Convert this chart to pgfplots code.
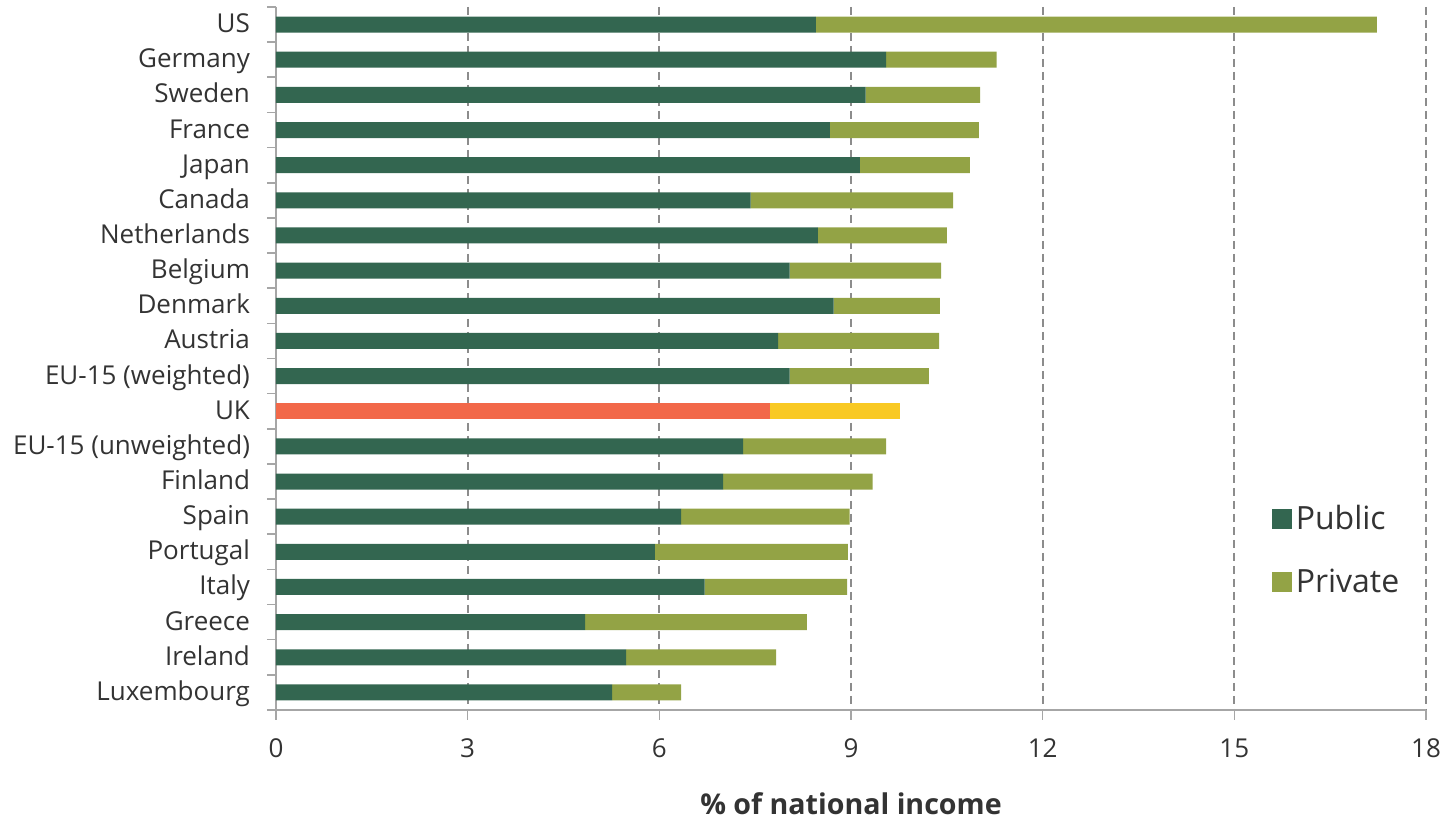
\documentclass[border=0pt]{standalone}
\usepackage{pgfplots}
\pgfplotsset{compat=1.18}
\usepackage{pgfplotstable}
\usepackage{fontspec}
\setmainfont{Open Sans}
\definecolor{pubc}{HTML}{336650}
\definecolor{privc}{HTML}{93A345}
\definecolor{ukpubc}{HTML}{F26849}
\definecolor{ukprivc}{HTML}{F9C923}
\definecolor{textc}{HTML}{333333}
\definecolor{axc}{HTML}{A6A6A6}
\definecolor{gridc}{HTML}{8C8C8C}

\pgfplotstableread{
y pub priv ukpub ukpriv
0 8.45 8.78 0 0
1 9.55 1.73 0 0
2 9.23 1.79 0 0
3 8.67 2.33 0 0
4 9.14 1.72 0 0
5 7.43 3.17 0 0
6 8.48 2.02 0 0
7 8.04 2.37 0 0
8 8.73 1.66 0 0
9 7.86 2.52 0 0
10 8.04 2.18 0 0
11 0 0 7.73 2.04
12 7.31 2.24 0 0
13 7.00 2.34 0 0
14 6.34 2.64 0 0
15 5.93 3.02 0 0
16 6.71 2.23 0 0
17 4.84 3.47 0 0
18 5.48 2.35 0 0
19 5.26 1.08 0 0
}\data

\begin{document}
\begin{tikzpicture}
\path[use as bounding box] (-138pt,-56pt) rectangle (588.5pt,355pt);
\begin{axis}[
  at={(0,0)}, anchor=south west,
  scale only axis, width=575pt, height=351.5pt,
  xbar stacked, bar width=8pt,
  xmin=0, xmax=18, xtick={0,3,...,18},
  ymin=-0.5, ymax=19.5, y dir=reverse,
  ytick={0,...,19},
  yticklabels={US,Germany,Sweden,France,Japan,Canada,Netherlands,Belgium,Denmark,Austria,EU-15 (weighted),UK,EU-15 (unweighted),Finland,Spain,Portugal,Italy,Greece,Ireland,Luxembourg},
  minor ytick={-0.5,0.5,...,19.5},
  axis lines*=left,
  axis line style={axc, line width=0.8pt},
  tick align=outside,
  major tick length=5pt, minor tick length=4.5pt,
  major y tick style={draw=none},
  minor y tick style={axc, line width=0.8pt},
  major x tick style={axc, line width=0.8pt},
  xmajorgrids,
  major grid style={gridc, dash pattern=on 4pt off 2.5pt, line width=0.9pt},
  /pgf/number format/assume math mode=true,
  tick label style={font=\fontsize{13}{15.6}\selectfont, text=textc},
  yticklabel style={anchor=base east, xshift=-4.5pt, yshift=-4pt},
  xticklabel style={yshift=-6pt},
  xlabel={\% of national income},
  xlabel style={at={(axis description cs:0.5,0)}, anchor=center, yshift=-47pt, font=\bfseries\fontsize{14.3}{17}\selectfont, text=textc},
  legend style={at={(axis description cs:0.8603,0.303)}, anchor=north west, draw=none, fill=none, font=\fontsize{16}{19}\selectfont, text=textc, row sep=14pt, legend cell align=left},
  legend image code/.code={\fill (-2.5pt,-5pt) rectangle (7.5pt,5pt);},
]
\addplot[fill=pubc, draw=none] table[x=pub, y=y] {\data};
\addplot[fill=privc, draw=none] table[x=priv, y=y] {\data};
\addplot[fill=ukpubc, draw=none, forget plot] table[x=ukpub, y=y] {\data};
\addplot[fill=ukprivc, draw=none, forget plot] table[x=ukpriv, y=y] {\data};
\legend{Public, Private}
\end{axis}
\end{tikzpicture}
\end{document}
